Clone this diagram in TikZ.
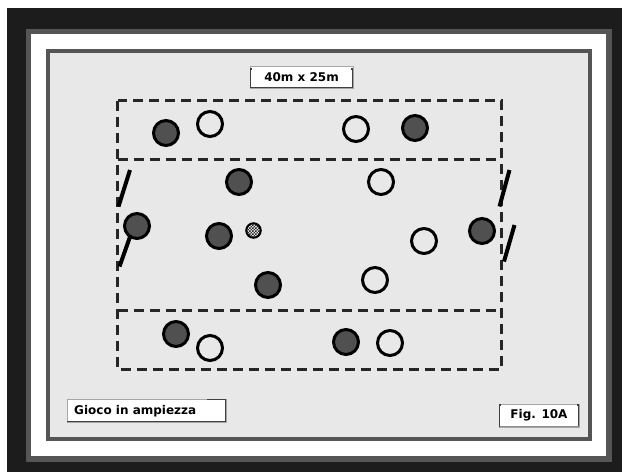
\documentclass[tikz,border=0pt]{standalone}
\usepackage{fontspec}
\setmainfont{DejaVu Sans}
\usetikzlibrary{patterns}
\pgfdeclarepatternformonly{finecheck}{\pgfqpoint{-.1pt}{-.1pt}}{\pgfqpoint{3.1pt}{3.1pt}}{\pgfqpoint{3pt}{3pt}}{%
  \pgfpathrectangle{\pgfqpoint{0pt}{0pt}}{\pgfqpoint{1.5pt}{1.5pt}}%
  \pgfpathrectangle{\pgfqpoint{1.5pt}{1.5pt}}{\pgfqpoint{1.5pt}{1.5pt}}%
  \pgfusepath{fill}}
\definecolor{frame}{HTML}{1C1C1C}
\definecolor{rim}{HTML}{555555}
\definecolor{panel}{HTML}{E8E8E8}
\definecolor{player}{HTML}{505050}
\begin{document}
\begin{tikzpicture}[x=1pt,y=-1pt,
  dark/.style={circle,draw=black,line width=3pt,fill=player,minimum size=25pt,inner sep=0pt},
  light/.style={circle,draw=black,line width=3pt,fill=panel,minimum size=25pt,inner sep=0pt},
  ballstyle/.style={circle,draw=black,line width=2pt,preaction={fill=white},pattern=finecheck,pattern color=black!85,minimum size=14.5pt,inner sep=0pt},
  field/.style={draw=black!85,line width=3pt,dash pattern=on 10pt off 6pt},
  post/.style={line width=4pt,black},
  lbl/.style={font=\fontsize{12}{14}\selectfont\bfseries,inner sep=0pt},
  boxfill/.style={fill=white,draw=black!35,line width=1pt},
  boxedge/.style={draw=black!75,line width=1.5pt}]
\useasboundingbox (0,0) rectangle (622,472);
% frames
\fill[white] (0,0) rectangle (622,472);
\fill[frame] (7,8) rectangle (622,472);
\fill[rim] (26,29) rectangle (612,462);
\fill[white] (31,34) rectangle (606,456);
\fill[rim] (46,49) rectangle (592,441);
\fill[panel] (50,53) rectangle (588,437);
% field
\draw[field] (117.5,100.5) rectangle (501,369.5);
\draw[field] (117.5,159.5) -- (501,159.5);
\draw[field] (117.5,310) -- (501,310);
% posts
\draw[post] (130,170) -- (118.5,206.5);
\draw[post] (131,234) -- (119.5,266.5);
\draw[post] (509.5,170) -- (499.5,206.5);
\draw[post] (514.5,225) -- (504,261.5);
% dark players
\node[dark] (d1) at (166,133) {};
\node[dark] (d2) at (415,128) {};
\node[dark] (d3) at (239,182) {};
\node[dark] (d4) at (137,226) {};
\node[dark] (d5) at (219,236) {};
\node[dark] (d6) at (268,285) {};
\node[dark] (d7) at (482,231) {};
\node[dark] (d8) at (176,334) {};
\node[dark] (d9) at (346,342) {};
% light players
\node[light] (w1) at (210,124) {};
\node[light] (w2) at (356,129) {};
\node[light] (w3) at (381,182) {};
\node[light] (w4) at (424,241) {};
\node[light] (w5) at (375,280) {};
\node[light] (w6) at (210,348) {};
\node[light] (w7) at (390,343) {};
% ball
\node[ballstyle] (ball) at (253.5,230.5) {};
% label boxes
\draw[boxfill] (250,66) rectangle (353,88);
\draw[boxedge] (252,69) -- (250.5,69) -- (250.5,87.5) -- (352.5,87.5) -- (352.5,69) -- (351,69);
\node[lbl] (size) at (301.5,77) {40m x 25m};
\draw[boxfill] (67,399) rectangle (226,422);
\draw[boxedge] (207,399.5) -- (225.5,399.5) -- (225.5,421.5) -- (67,421.5);
\node[lbl,anchor=west] (title) at (74,411) {Gioco in ampiezza};
\draw[boxfill] (499,404) rectangle (579,427);
\draw[boxedge] (501,405) -- (499.5,405) -- (499.5,426.5);
\draw[boxedge] (577,405) -- (578.5,405) -- (578.5,426.5);
\draw[black!45,line width=1pt] (499.5,426.5) -- (578.5,426.5);
\node[lbl] (fig) at (539,415.5) {Fig. 10A};
\end{tikzpicture}
\end{document}
